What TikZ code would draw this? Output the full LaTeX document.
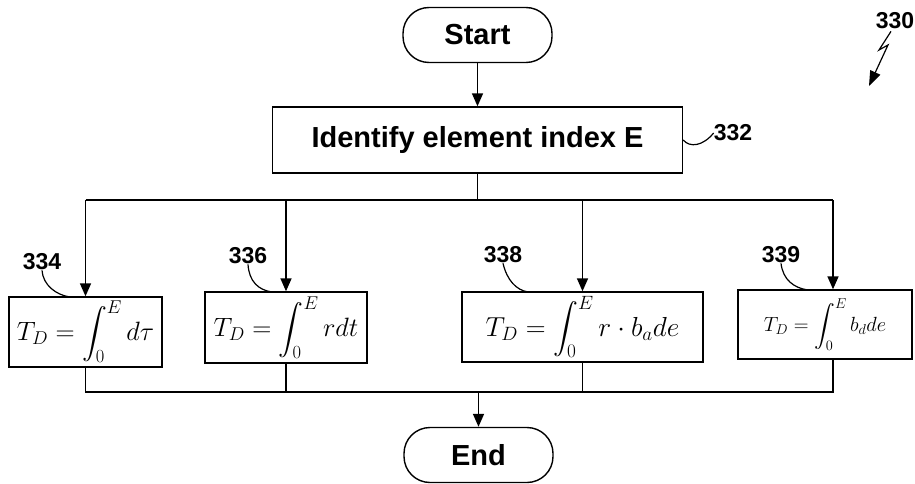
\RequirePackage{fix-cm}
\documentclass[tikz,border=0pt]{standalone}
\usepackage{amsmath}
\usepackage{fontspec}
\setmainfont{Liberation Sans}
\usetikzlibrary{arrows.meta,calc}
\begin{document}
\begin{tikzpicture}[x=1pt,y=-1pt,
  conn/.style={line width=1.6pt},
  arr/.style={conn,-{Triangle[length=13pt,width=11pt]}},
  leader/.style={line width=1.2pt},
  term/.style={draw,line width=1.4pt,rounded corners=26pt,minimum width=149pt,minimum height=55pt,inner sep=0pt,font=\fontsize{29}{33}\selectfont\bfseries},
  procbox/.style={draw,line width=1.4pt,inner sep=0pt},
  fbox/.style={procbox,font=\fontsize{26.5}{30}\selectfont},
  reflabel/.style={inner sep=0pt,font=\fontsize{23}{26}\selectfont\bfseries}]
\useasboundingbox (0,0) rectangle (915,484);
\node[term] (start) at (477.5,35) {Start};
\node[procbox,minimum width=410pt,minimum height=66pt,font=\fontsize{29}{33}\selectfont\bfseries] (ident) at (477.5,140) {Identify element index E};
\node[fbox,minimum width=153pt,minimum height=70pt] (b334) at (85.5,332) {$\displaystyle T_D = \int_0^E d\tau$};
\node[fbox,minimum width=162pt,minimum height=71pt] (b336) at (286,327.5) {$\displaystyle T_D = \int_0^E rdt$};
\node[fbox,minimum width=241pt,minimum height=70pt,font=\fontsize{27.5}{31}\selectfont] (b338) at (582.5,327) {$\displaystyle T_D = \int_0^E r\cdot b_a de$};
\node[procbox,minimum width=174pt,minimum height=69pt,font=\fontsize{20.5}{24}\selectfont] (b339) at (825,324.5) {$\displaystyle T_D = \int_0^E b_d de$};
\node[term] (end) at (478.5,455) {End};
\node[reflabel] (l330) at (895,21) {330};
\node[reflabel] (l332) at (733,133) {332};
\node[reflabel] (l334) at (42,262) {334};
\node[reflabel] (l336) at (248,256) {336};
\node[reflabel] (l338) at (503,255) {338};
\node[reflabel] (l339) at (781,255) {339};
\coordinate (barL) at (85.5,200);
\coordinate (barR) at (833,200);
\coordinate (botL) at (85.5,392);
\coordinate (botR) at (833,392);
\coordinate (e334) at (70,297);
\coordinate (e336) at (272,292);
\coordinate (e338) at (528,292);
\coordinate (e339) at (808,290);
\coordinate (tip330) at (869,86);
% main flow
\draw[arr] (start.south) -- (ident.north);
\draw[conn] (ident.south) -- (ident.south |- barL);
\draw[conn] (barL) -- (barR);
\draw[arr] (barL) -- (b334.north);
\draw[arr] (b336.north |- barL) -- (b336.north);
\draw[arr] (b338.north |- barL) -- (b338.north);
\draw[arr] (barR) -- (barR |- b339.north);
\draw[conn] (b334.south) -- (botL) -- (botR) -- (botR |- b339.south);
\draw[conn] (b336.south) -- (b336.south |- botL);
\draw[conn] (b338.south) -- (b338.south |- botL);
\draw[arr] (end.north |- botL) -- (end.north);
% reference leaders
\draw[leader] (ident.east) .. controls (690,148) and (703,146) .. (l332.west);
\draw[leader] (l334.south) .. controls (43,285) and (56,295) .. (e334);
\draw[leader] (l336.south) .. controls (249,281) and (258,290) .. (e336);
\draw[leader] (l338.south) .. controls (507,280) and (516,290) .. (e338);
\draw[leader] (l339.south) .. controls (783,280) and (794,288) .. (e339);
\draw[leader,-{Triangle[length=15pt,width=11pt]}] ($(l330.south)+(-4,2)$) -- (879,50) -- (888,45) -- (tip330);
\end{tikzpicture}
\end{document}
